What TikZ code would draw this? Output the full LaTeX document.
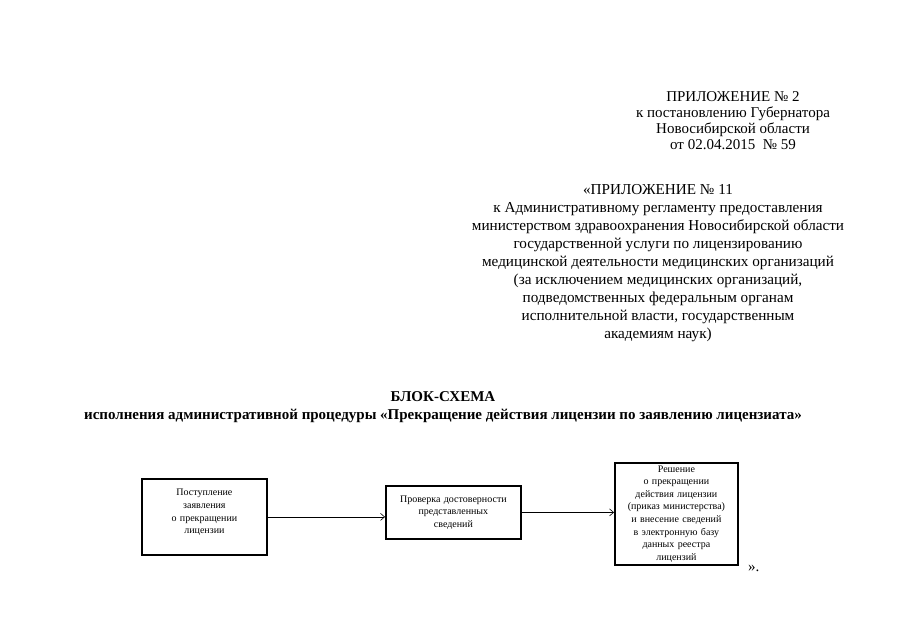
\documentclass[tikz,border=0pt]{standalone}
\usepackage{fontspec}
\setmainfont{Liberation Serif}
\usetikzlibrary{arrows.meta,positioning,calc}
\definecolor{DocInk}{HTML}{000000}
\tikzset{
  headtext/.style={align=center, font=\fontsize{15}{16}\selectfont, text=DocInk, inner sep=0pt},
  regtext/.style={align=center, font=\fontsize{15.2}{18}\selectfont, text=DocInk, inner sep=0pt},
  titletext/.style={align=center, font=\fontsize{15}{18}\selectfont\bfseries, text=DocInk, inner sep=0pt},
  stepbox/.style={draw=DocInk, line width=1.8pt, align=center, inner xsep=2pt, inner ysep=1pt,
                  font=\fontsize{10}{12.6}\selectfont, text=DocInk},
  arrow/.style={-{Straight Barb[length=4pt,width=7pt]}, line width=0.6pt, DocInk},
}
\begin{document}
\begin{tikzpicture}[x=1pt,y=-1pt]
  \useasboundingbox (0,0) rectangle (905,640);

  % Appendix header
  \node[headtext, anchor=north] (app) at (733,91)
        {ПРИЛОЖЕНИЕ № 2\\к постановлению Губернатора\\Новосибирской области\\от 02.04.2015~~№ 59};

  % Regulation header
  \node[regtext, anchor=north] (reg) at (658,184)
        {«ПРИЛОЖЕНИЕ № 11\\к Административному регламенту предоставления\\министерством здравоохранения Новосибирской области\\государственной услуги по лицензированию\\медицинской деятельности медицинских организаций\\(за исключением медицинских организаций,\\подведомственных федеральным органам\\исполнительной власти, государственным\\академиям наук)};

  % Title
  \node[titletext, anchor=north] (title) at (443,391)
        {БЛОК-СХЕМА\\исполнения административной процедуры «Прекращение действия лицензии по заявлению лицензиата»};

  % Steps
  \node[stepbox, anchor=north west, minimum width=125pt, minimum height=76pt, text width=100pt] (intake) at (141,478)
        {Поступление\\заявления\\о прекращении\\лицензии\\[-2pt]~};
  \node[stepbox, anchor=north west, minimum width=135pt, minimum height=53pt, text width=125pt] (check) at (385,485)
        {Проверка достоверности\\представленных\\сведений};
  \node[stepbox, anchor=north west, minimum width=123pt, minimum height=102pt, text width=115pt] (decision) at (614,462)
        {Решение\\о прекращении\\действия лицензии\\(приказ министерства)\\и внесение сведений\\в электронную базу\\данных реестра\\лицензий};

  \node[headtext, anchor=base west] (close) at (748,571) {».};

  % Connectors
  \draw[arrow] (intake.east) -- (intake.east -| check.west);
  \draw[arrow] (check.east) -- (check.east -| decision.west);
\end{tikzpicture}
\end{document}
